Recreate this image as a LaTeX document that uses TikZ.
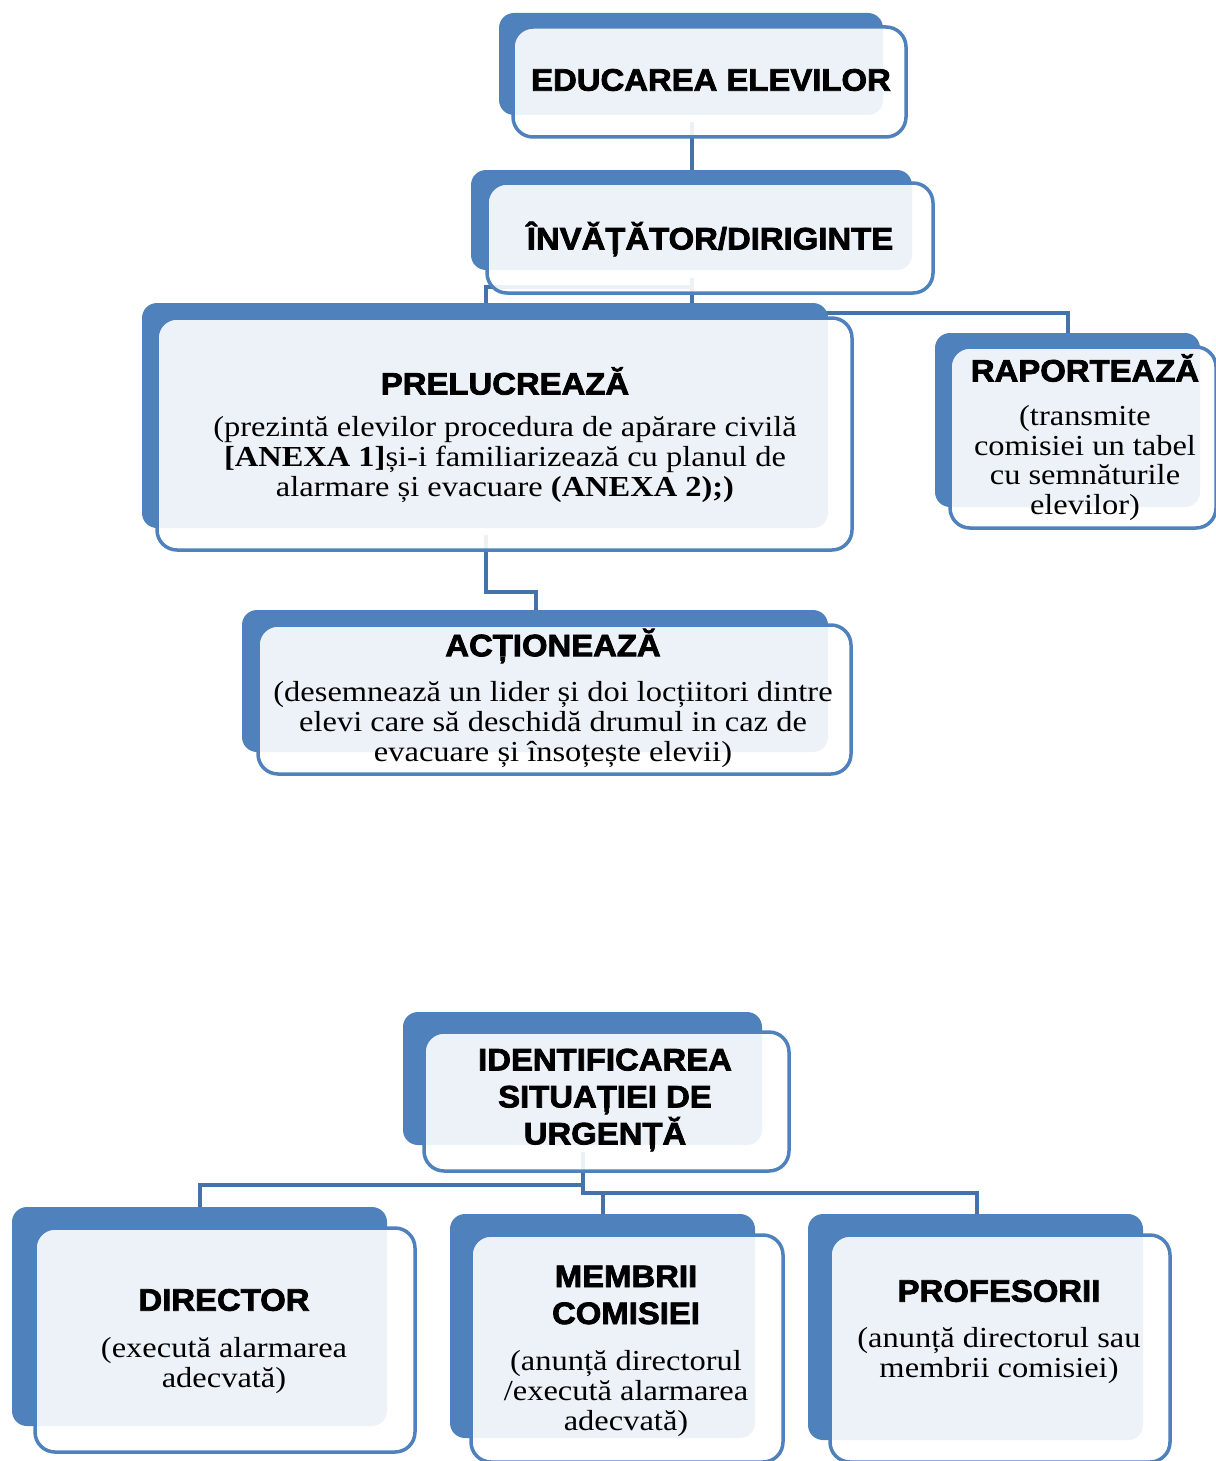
\documentclass[tikz,border=0pt]{standalone}
\usepackage{fontspec}
\setmainfont{Liberation Serif}[FakeStretch=1.12]
\newfontfamily\headfont{Liberation Sans Bold}[FakeStretch=1.06, FakeBold=2.5]
\definecolor{accblue}{HTML}{4F81BD}
\definecolor{connblue}{HTML}{4672AA}
\tikzset{
  backbox/.style={fill=accblue, rounded corners=15pt, inner sep=0pt, outer sep=0pt},
  frontbox/.style={fill=white, fill opacity=0.9, draw=accblue, draw opacity=1, line width=3.5pt, rounded corners=20pt, inner sep=0pt, outer sep=0pt},
  conn/.style={draw=connblue, line width=4.5pt},
  headtxt/.style={font=\headfont\fontsize{31}{37}\selectfont, align=center, inner sep=0pt, text=black},
  bodytxt/.style={font=\fontsize{29}{30}\selectfont, align=center, inner sep=0pt, text=black},
}
\begin{document}
\begin{tikzpicture}[x=1pt,y=-1pt]
\useasboundingbox (0,0) rectangle (1215,1461);
% connector coordinates
\coordinate (c1a) at (692,122);
\coordinate (c1b) at (692,174);
\coordinate (c2a) at (692,278);
\coordinate (c2j) at (692,287);
\coordinate (c2b) at (486,306);
\coordinate (c3b) at (1068,336);
\coordinate (c4a) at (486,535);
\coordinate (c4b) at (536,613);
\coordinate (c5a) at (583,1152);
\coordinate (c5j) at (583,1185);
\coordinate (c5b) at (200,1210);
\coordinate (c6j) at (603,1193);
\coordinate (c6b) at (603,1217);
\coordinate (c7b) at (977,1217);
% connectors
\draw[conn] (c1a) -- (c1b);
\draw[conn] (c2a) -- (c2j) -| (c2b);
\draw[conn] (c2j) -- (692,313) -| (c3b);
\draw[conn] (c4a) |- (511,592) -| (c4b);
\draw[conn] (c5a) -- (c5j) -| (c5b);
\draw[conn] (c5j) |- (c6j) -- (c6b);
\draw[conn] (c6j) -| (c7b);
% box 1
\node[backbox, minimum width=384pt, minimum height=102pt] (b1) at (691,64) {};
\node[frontbox, minimum width=393pt, minimum height=110pt] (f1) at (709.5,82) {};
\node[headtxt] (t1) at (711,80) {EDUCAREA ELEVILOR};
% box 2
\node[backbox, minimum width=441pt, minimum height=100pt] (b2) at (691.5,220) {};
\node[frontbox, minimum width=446pt, minimum height=110pt] (f2) at (710,238) {};
\node[headtxt] (t2) at (710,239) {ÎNVĂȚĂTOR/DIRIGINTE};
% PRELUCREAZA
\node[backbox, minimum width=686pt, minimum height=225pt] (b3) at (485,415.5) {};
\node[frontbox, minimum width=695pt, minimum height=232pt] (f3) at (504.5,434) {};
\node[headtxt] (t3) at (505,381) {PRELUCREAZĂ};
\node[bodytxt] (d3) at (505,460) {(prezintă elevilor procedura de apărare civilă\\\textbf{[ANEXA 1]}și-i familiarizează cu planul de\\alarmare și evacuare \textbf{(ANEXA 2);)}};
% RAPORTEAZA
\node[backbox, minimum width=265pt, minimum height=174pt] (b4) at (1067.5,420) {};
\node[frontbox, minimum width=266pt, minimum height=181pt] (f4) at (1083,437.5) {};
\node[headtxt] (t4) at (1085,368) {RAPORTEAZĂ};
\node[bodytxt, font=\fontsize{29}{29.5}\selectfont] (d4) at (1085,463) {(transmite\\comisiei un tabel\\cu semnăturile\\elevilor)};
% ACTIONEAZA
\node[backbox, minimum width=586pt, minimum height=142pt] (b5) at (535,681) {};
\node[frontbox, minimum width=593pt, minimum height=149pt] (f5) at (554.5,699.5) {};
\node[headtxt] (t5) at (553,646) {ACȚIONEAZĂ};
\node[bodytxt] (d5) at (553,725) {(desemnează un lider și doi locțiitori dintre\\elevi care să deschidă drumul in caz de\\evacuare și însoțește elevii)};
% IDENTIFICAREA
\node[backbox, minimum width=359pt, minimum height=133pt] (b6) at (582.5,1078.5) {};
\node[frontbox, minimum width=365pt, minimum height=139pt] (f6) at (606.5,1101.5) {};
\node[headtxt] (t6) at (605,1100) {IDENTIFICAREA\\SITUAȚIEI DE\\URGENȚĂ};
% DIRECTOR
\node[backbox, minimum width=375pt, minimum height=219pt] (b7) at (199.5,1316.5) {};
\node[frontbox, minimum width=380pt, minimum height=224pt] (f7) at (225,1340) {};
\node[headtxt] (t7) at (224,1300) {DIRECTOR};
\node[bodytxt] (d7) at (224,1366) {(execută alarmarea\\adecvată)};
% MEMBRII COMISIEI
\node[backbox, minimum width=305pt, minimum height=224pt] (b8) at (602.5,1326) {};
\node[frontbox, minimum width=312pt, minimum height=227pt] (f8) at (627,1348.5) {};
\node[headtxt] (t8) at (626,1295) {MEMBRII\\COMISIEI};
\node[bodytxt] (d8) at (626,1394) {(anunță directorul\\/execută alarmarea\\adecvată)};
% PROFESORII
\node[backbox, minimum width=335pt, minimum height=226pt] (b9) at (975.5,1327) {};
\node[frontbox, minimum width=340pt, minimum height=227pt] (f9) at (1000,1348.5) {};
\node[headtxt] (t9) at (999,1291) {PROFESORII};
\node[bodytxt] (d9) at (999,1356) {(anunță directorul sau\\membrii comisiei)};
\end{tikzpicture}
\end{document}
